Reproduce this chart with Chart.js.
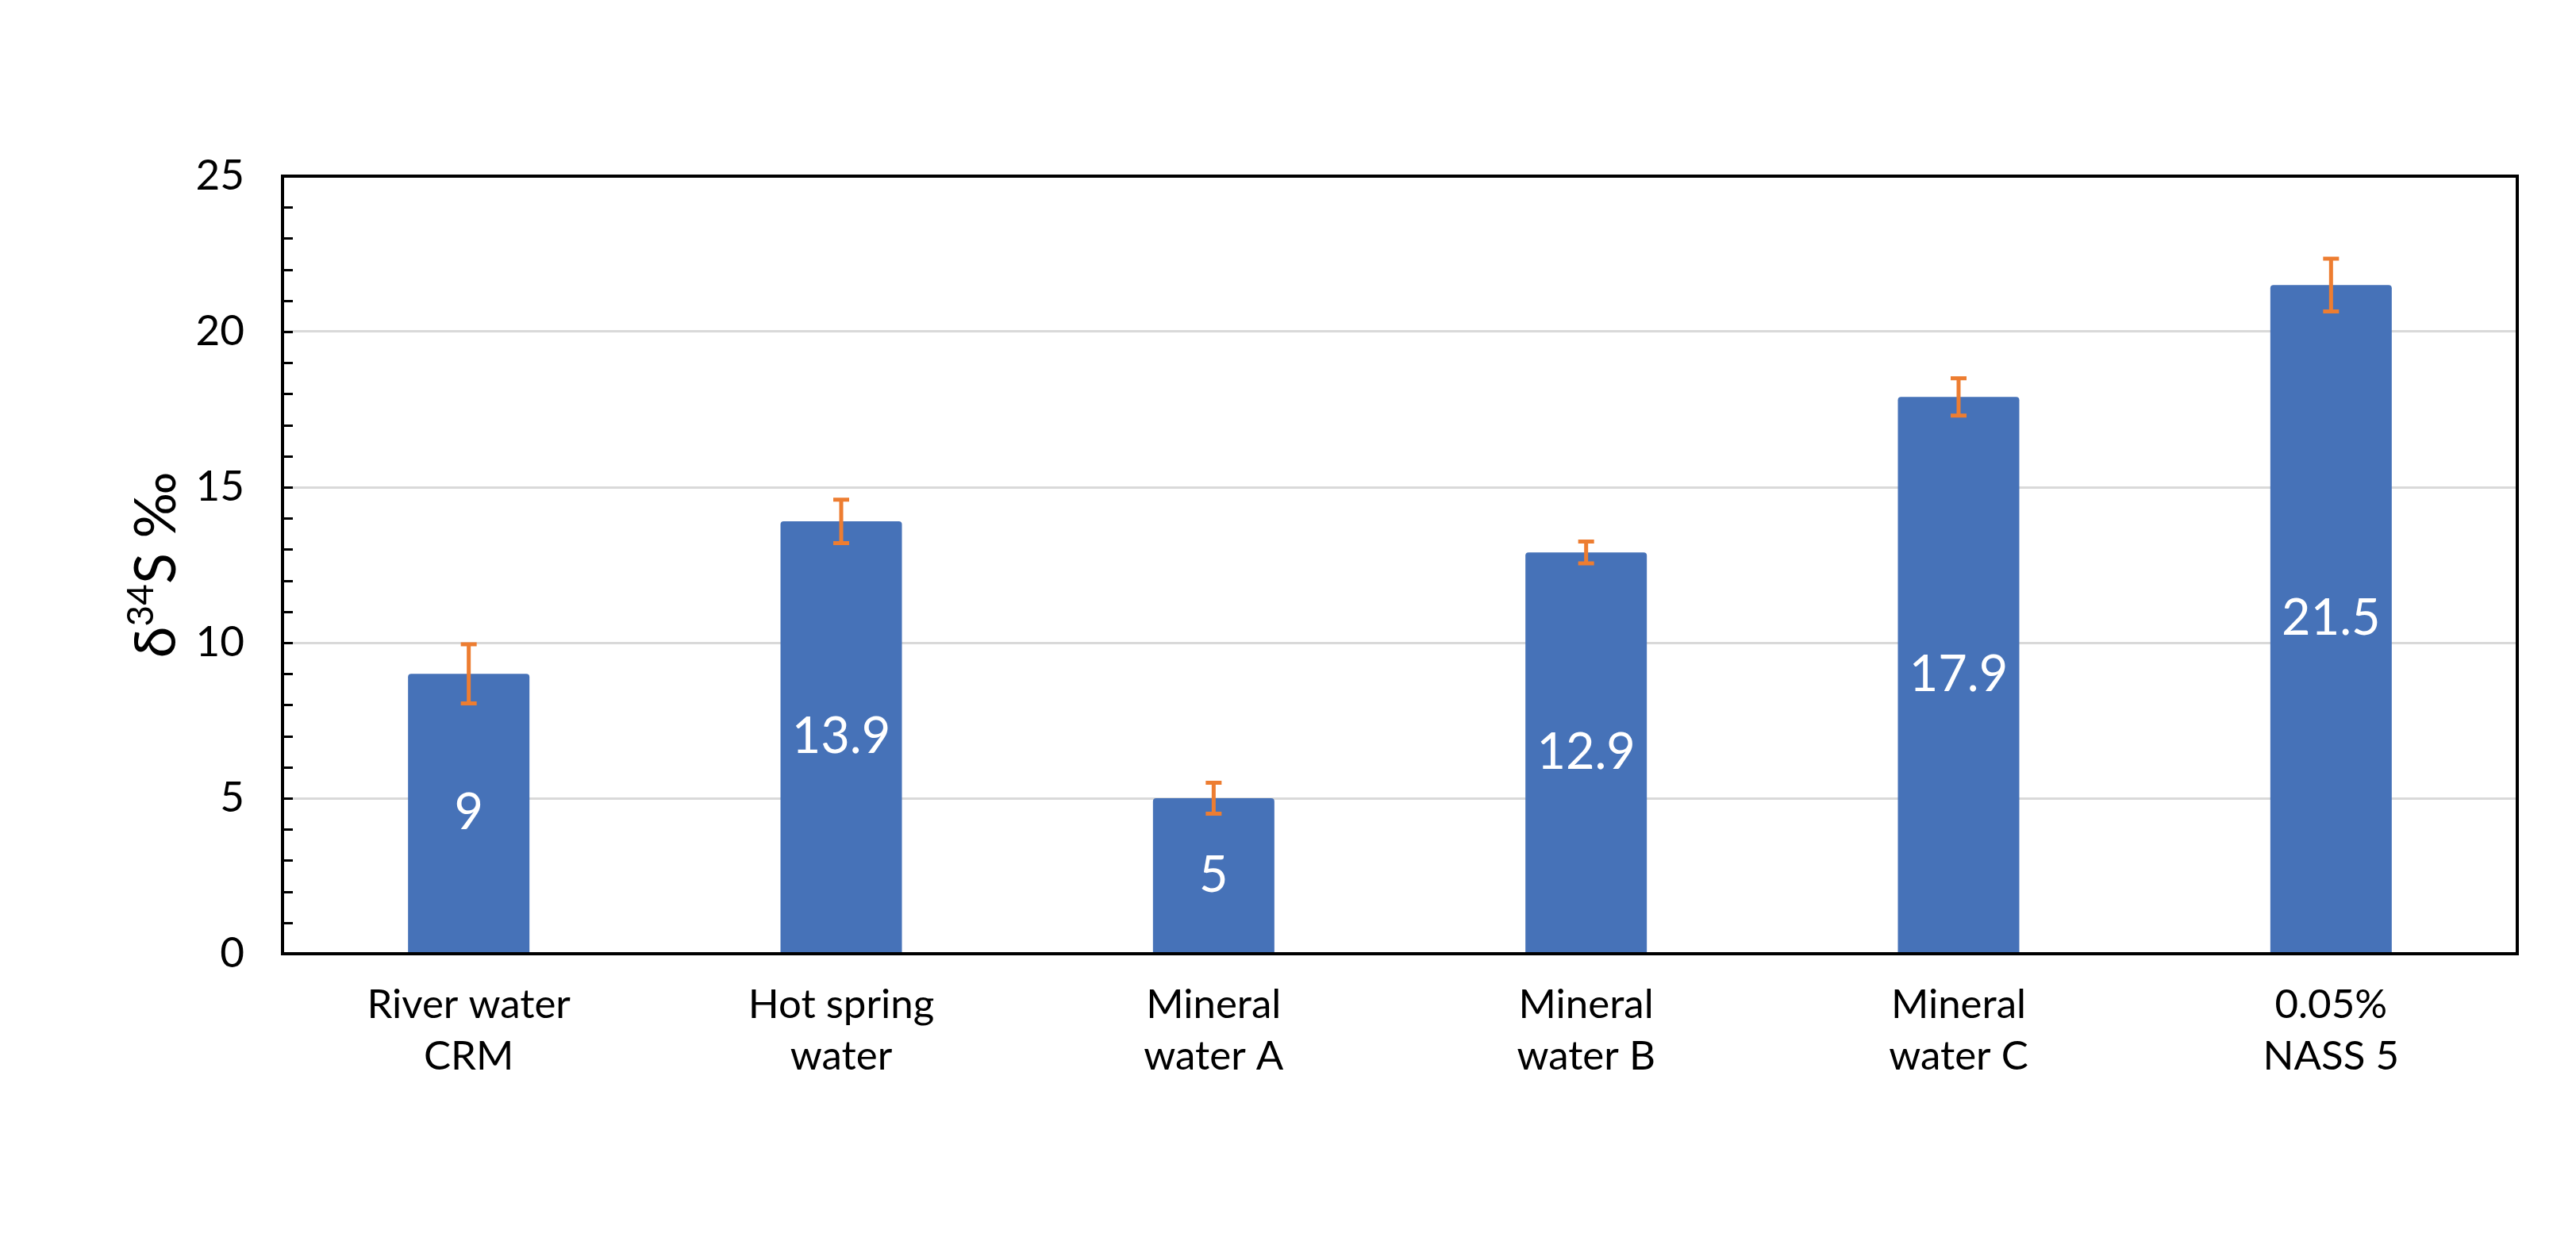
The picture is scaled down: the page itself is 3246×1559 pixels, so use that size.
<!DOCTYPE html>
<html>
<head>
    <title>Sulfur isotope ratios</title>
    <script src="https://cdn.jsdelivr.net/npm/chart.js"></script>
    <style>
        body {
            margin: 0;
            padding: 0;
            background-color: #fff;
        }
        canvas {
            display: block;
        }
    </style>
</head>
<body>
    <canvas id="isoChart" width="3246" height="1559"></canvas>

    <script>
        // Samples, measured delta values and their error (+/-)
        var categories = [
            ['River water', 'CRM'],
            ['Hot spring', 'water'],
            ['Mineral', 'water A'],
            ['Mineral', 'water B'],
            ['Mineral', 'water C'],
            ['0.05%', 'NASS 5']
        ];
        var deltaValues = [9, 13.9, 5, 12.9, 17.9, 21.5];
        var deltaErrors = [0.95, 0.7, 0.5, 0.35, 0.6, 0.85];
        var yTickLabels = [0, 5, 10, 15, 20, 25];

        var FONT = 'Lato, "Open Sans", sans-serif';

        // Frame, minor ticks, error bars, values inside the bars, axis title
        var decorations = {
            id: 'decorations',
            afterDatasetsDraw: function(chart) {
                var ctx = chart.ctx;
                var area = chart.chartArea;
                var y = chart.scales.y;
                var meta = chart.getDatasetMeta(0);

                // error bars
                ctx.save();
                ctx.strokeStyle = '#ED7D31';
                ctx.lineWidth = 5;
                meta.data.forEach(function(bar, i) {
                    var top = y.getPixelForValue(deltaValues[i] + deltaErrors[i]);
                    var bottom = y.getPixelForValue(deltaValues[i] - deltaErrors[i]);
                    var cap = 10;
                    ctx.beginPath();
                    ctx.moveTo(bar.x, top);
                    ctx.lineTo(bar.x, bottom);
                    ctx.moveTo(bar.x - cap, top);
                    ctx.lineTo(bar.x + cap, top);
                    ctx.moveTo(bar.x - cap, bottom);
                    ctx.lineTo(bar.x + cap, bottom);
                    ctx.stroke();
                });
                ctx.restore();

                // value labels in the middle of each bar
                ctx.save();
                ctx.fillStyle = '#fff';
                ctx.font = '63px ' + FONT;
                ctx.textAlign = 'center';
                ctx.textBaseline = 'middle';
                meta.data.forEach(function(bar, i) {
                    ctx.fillText(String(deltaValues[i]), bar.x, (bar.y + bar.base) / 2);
                });
                ctx.restore();

                // minor ticks pointing inward, one per unit
                ctx.save();
                ctx.strokeStyle = '#000';
                ctx.lineWidth = 3;
                ctx.beginPath();
                for (var v = y.min + 1; v < y.max; v++) {
                    var py = Math.round(y.getPixelForValue(v)) + 0.5;
                    ctx.moveTo(area.left, py);
                    ctx.lineTo(area.left + 13, py);
                }
                ctx.stroke();

                // frame around the plot
                ctx.lineWidth = 4;
                ctx.strokeRect(area.left, area.top, area.right - area.left, area.bottom - area.top);
                ctx.restore();

                // y axis title: delta 34 S permil
                ctx.save();
                ctx.translate(197, (area.top + area.bottom) / 2);
                ctx.rotate(-Math.PI / 2);
                ctx.fillStyle = '#000';
                ctx.textBaseline = 'alphabetic';
                var big = '72px ' + FONT;
                var small = '46px ' + FONT;
                ctx.font = big;
                var w1 = ctx.measureText('\u03B4').width;
                var w3 = ctx.measureText('S \u2030').width;
                ctx.font = small;
                var w2 = ctx.measureText('34').width;
                var x = -(w1 + w2 + w3) / 2;
                var base = 24;
                ctx.font = big;
                ctx.fillText('\u03B4', x, base);
                ctx.font = small;
                ctx.fillText('34', x + w1, base - 28);
                ctx.font = big;
                ctx.fillText('S \u2030', x + w1 + w2, base);
                ctx.restore();
            }
        };

        var ctxIso = document.getElementById('isoChart').getContext('2d');
        var isoChart = new Chart(ctxIso, {
            type: 'bar',
            data: {
                labels: categories,
                datasets: [{
                    label: 'delta 34S',
                    data: deltaValues,
                    backgroundColor: '#4672B8',
                    borderRadius: { topLeft: 4, topRight: 4 },
                    borderSkipped: 'bottom',
                    barPercentage: 0.326,
                    categoryPercentage: 1.0
                }]
            },
            options: {
                responsive: false,
                animation: false,
                devicePixelRatio: 1,
                layout: {
                    padding: { top: 222, right: 74, left: 0, bottom: 0 }
                },
                plugins: {
                    legend: { display: false },
                    tooltip: { enabled: false }
                },
                scales: {
                    x: {
                        grid: { display: false, drawTicks: false },
                        border: { display: false },
                        ticks: {
                            color: '#000',
                            padding: 32,
                            font: { family: FONT, size: 51, lineHeight: 1.27 },
                            maxRotation: 0,
                            autoSkip: false
                        },
                        afterFit: function(scale) { scale.height = 1559 - 1202; }
                    },
                    y: {
                        min: 0,
                        max: yTickLabels[yTickLabels.length - 1],
                        grid: {
                            drawTicks: false,
                            lineWidth: 3,
                            color: function(c) {
                                return (c.tick && c.tick.value % 5 === 0) ? '#D9D9D9' : 'rgba(0,0,0,0)';
                            }
                        },
                        border: { display: false },
                        ticks: {
                            stepSize: 1,
                            autoSkip: false,
                            color: '#000',
                            padding: 48,
                            font: { family: FONT, size: 53 },
                            callback: function(value) {
                                return yTickLabels.indexOf(value) >= 0 ? String(value) : '';
                            }
                        },
                        afterFit: function(scale) { scale.width = 356; }
                    }
                }
            },
            plugins: [decorations]
        });
    </script>
</body>
</html>
